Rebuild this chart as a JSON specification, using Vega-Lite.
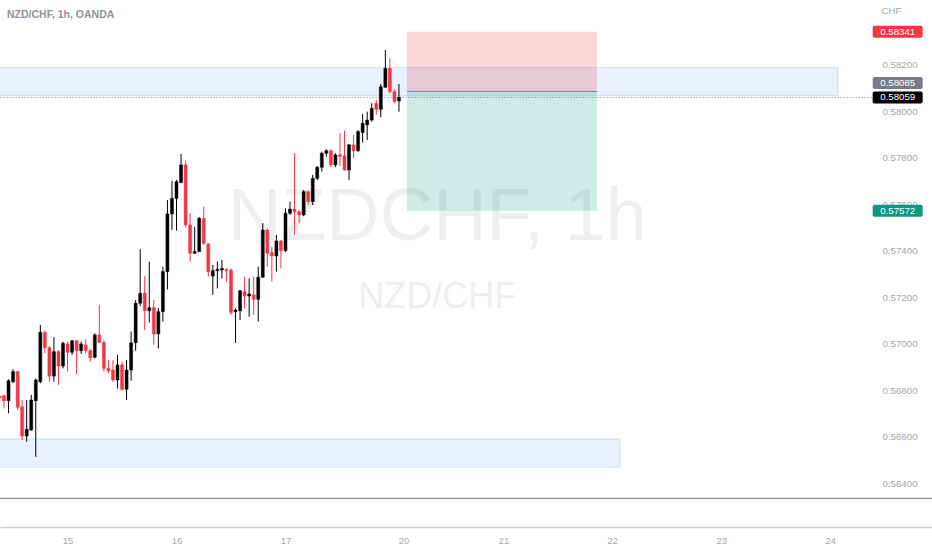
{
  "$schema": "https://vega.github.io/schema/vega-lite/v6.json",
  "width": 932,
  "height": 527,
  "autosize": {"type": "none"},
  "padding": {"left": 0, "top": 0, "right": 0, "bottom": 23},
  "background": "#ffffff",
  "title": {
    "text": "NZD/CHF, 1h, OANDA",
    "anchor": "start",
    "frame": "group",
    "orient": "top",
    "offset": -25,
    "baseline": "middle",
    "dx": 7,
    "fontSize": 10.5,
    "fontWeight": "bold",
    "color": "#8f929b",
    "font": "Liberation Sans"
  },
  "datasets": {
    "candles": [
      {"i": 9, "o": 0.56775, "h": 0.56784, "l": 0.56758, "c": 0.56767},
      {"i": 10, "o": 0.56777, "h": 0.56780, "l": 0.56722, "c": 0.56755},
      {"i": 11, "o": 0.56755, "h": 0.56847, "l": 0.56701, "c": 0.56841},
      {"i": 12, "o": 0.56837, "h": 0.56890, "l": 0.56830, "c": 0.56880},
      {"i": 13, "o": 0.56880, "h": 0.56884, "l": 0.56715, "c": 0.56727},
      {"i": 14, "o": 0.56729, "h": 0.56758, "l": 0.56586, "c": 0.56603},
      {"i": 15, "o": 0.56603, "h": 0.56758, "l": 0.56579, "c": 0.56632},
      {"i": 16, "o": 0.56629, "h": 0.56780, "l": 0.56625, "c": 0.56758},
      {"i": 17, "o": 0.56755, "h": 0.56851, "l": 0.56514, "c": 0.56844},
      {"i": 18, "o": 0.56837, "h": 0.57081, "l": 0.56830, "c": 0.57049},
      {"i": 19, "o": 0.57049, "h": 0.57056, "l": 0.56959, "c": 0.56983},
      {"i": 20, "o": 0.56983, "h": 0.56990, "l": 0.56837, "c": 0.56861},
      {"i": 21, "o": 0.56861, "h": 0.57028, "l": 0.56837, "c": 0.56966},
      {"i": 22, "o": 0.56966, "h": 0.56973, "l": 0.56823, "c": 0.56904},
      {"i": 23, "o": 0.56904, "h": 0.57009, "l": 0.56894, "c": 0.57002},
      {"i": 24, "o": 0.56999, "h": 0.57009, "l": 0.56880, "c": 0.56963},
      {"i": 25, "o": 0.56963, "h": 0.57016, "l": 0.56952, "c": 0.57013},
      {"i": 26, "o": 0.57013, "h": 0.57016, "l": 0.56870, "c": 0.56970},
      {"i": 27, "o": 0.56970, "h": 0.57009, "l": 0.56956, "c": 0.56999},
      {"i": 28, "o": 0.56995, "h": 0.57019, "l": 0.56959, "c": 0.56970},
      {"i": 29, "o": 0.56970, "h": 0.56980, "l": 0.56923, "c": 0.56940},
      {"i": 30, "o": 0.56942, "h": 0.57045, "l": 0.56937, "c": 0.57038},
      {"i": 31, "o": 0.57038, "h": 0.57167, "l": 0.57002, "c": 0.57006},
      {"i": 32, "o": 0.57006, "h": 0.57016, "l": 0.56880, "c": 0.56894},
      {"i": 33, "o": 0.56894, "h": 0.56930, "l": 0.56873, "c": 0.56883},
      {"i": 34, "o": 0.56887, "h": 0.56930, "l": 0.56837, "c": 0.56844},
      {"i": 35, "o": 0.56844, "h": 0.56952, "l": 0.56808, "c": 0.56909},
      {"i": 36, "o": 0.56909, "h": 0.56923, "l": 0.56797, "c": 0.56804},
      {"i": 37, "o": 0.56804, "h": 0.56930, "l": 0.56758, "c": 0.56887},
      {"i": 38, "o": 0.56887, "h": 0.57052, "l": 0.56841, "c": 0.57004},
      {"i": 39, "o": 0.57004, "h": 0.57188, "l": 0.56970, "c": 0.57174},
      {"i": 40, "o": 0.57174, "h": 0.57406, "l": 0.57162, "c": 0.57217},
      {"i": 41, "o": 0.57217, "h": 0.57291, "l": 0.57059, "c": 0.57142},
      {"i": 42, "o": 0.57142, "h": 0.57353, "l": 0.57091, "c": 0.57155},
      {"i": 43, "o": 0.57155, "h": 0.57188, "l": 0.56995, "c": 0.57042},
      {"i": 44, "o": 0.57042, "h": 0.57154, "l": 0.56980, "c": 0.57138},
      {"i": 45, "o": 0.57138, "h": 0.57331, "l": 0.57095, "c": 0.57310},
      {"i": 46, "o": 0.57310, "h": 0.57618, "l": 0.57234, "c": 0.57558},
      {"i": 47, "o": 0.57558, "h": 0.57701, "l": 0.57489, "c": 0.57625},
      {"i": 48, "o": 0.57625, "h": 0.57704, "l": 0.57486, "c": 0.57697},
      {"i": 49, "o": 0.57693, "h": 0.57816, "l": 0.57690, "c": 0.57769},
      {"i": 50, "o": 0.57769, "h": 0.57787, "l": 0.57501, "c": 0.57511},
      {"i": 51, "o": 0.57511, "h": 0.57561, "l": 0.57353, "c": 0.57389},
      {"i": 52, "o": 0.57389, "h": 0.57503, "l": 0.57386, "c": 0.57396},
      {"i": 53, "o": 0.57396, "h": 0.57545, "l": 0.57395, "c": 0.57539},
      {"i": 54, "o": 0.57539, "h": 0.57589, "l": 0.57425, "c": 0.57432},
      {"i": 55, "o": 0.57429, "h": 0.57433, "l": 0.57288, "c": 0.57310},
      {"i": 56, "o": 0.57291, "h": 0.57339, "l": 0.57210, "c": 0.57314},
      {"i": 57, "o": 0.57314, "h": 0.57353, "l": 0.57238, "c": 0.57320},
      {"i": 58, "o": 0.57317, "h": 0.57360, "l": 0.57281, "c": 0.57324},
      {"i": 59, "o": 0.57320, "h": 0.57324, "l": 0.57267, "c": 0.57314},
      {"i": 60, "o": 0.57317, "h": 0.57324, "l": 0.57124, "c": 0.57134},
      {"i": 61, "o": 0.57138, "h": 0.57152, "l": 0.57004, "c": 0.57145},
      {"i": 62, "o": 0.57142, "h": 0.57231, "l": 0.57102, "c": 0.57228},
      {"i": 63, "o": 0.57224, "h": 0.57288, "l": 0.57152, "c": 0.57205},
      {"i": 64, "o": 0.57205, "h": 0.57281, "l": 0.57116, "c": 0.57214},
      {"i": 65, "o": 0.57210, "h": 0.57288, "l": 0.57124, "c": 0.57191},
      {"i": 66, "o": 0.57191, "h": 0.57331, "l": 0.57095, "c": 0.57286},
      {"i": 67, "o": 0.57286, "h": 0.57518, "l": 0.57283, "c": 0.57489},
      {"i": 68, "o": 0.57489, "h": 0.57496, "l": 0.57331, "c": 0.57389},
      {"i": 69, "o": 0.57392, "h": 0.57417, "l": 0.57267, "c": 0.57377},
      {"i": 70, "o": 0.57377, "h": 0.57468, "l": 0.57310, "c": 0.57442},
      {"i": 71, "o": 0.57442, "h": 0.57446, "l": 0.57324, "c": 0.57400},
      {"i": 72, "o": 0.57400, "h": 0.57582, "l": 0.57395, "c": 0.57561},
      {"i": 73, "o": 0.57561, "h": 0.57611, "l": 0.57554, "c": 0.57579},
      {"i": 74, "o": 0.57579, "h": 0.57819, "l": 0.57468, "c": 0.57568},
      {"i": 75, "o": 0.57568, "h": 0.57575, "l": 0.57521, "c": 0.57554},
      {"i": 76, "o": 0.57554, "h": 0.57661, "l": 0.57549, "c": 0.57654},
      {"i": 77, "o": 0.57654, "h": 0.57659, "l": 0.57597, "c": 0.57611},
      {"i": 78, "o": 0.57611, "h": 0.57726, "l": 0.57597, "c": 0.57711},
      {"i": 79, "o": 0.57711, "h": 0.57764, "l": 0.57704, "c": 0.57759},
      {"i": 80, "o": 0.57759, "h": 0.57826, "l": 0.57740, "c": 0.57819},
      {"i": 81, "o": 0.57819, "h": 0.57836, "l": 0.57804, "c": 0.57830},
      {"i": 82, "o": 0.57830, "h": 0.57836, "l": 0.57759, "c": 0.57769},
      {"i": 83, "o": 0.57769, "h": 0.57819, "l": 0.57759, "c": 0.57812},
      {"i": 84, "o": 0.57812, "h": 0.57905, "l": 0.57764, "c": 0.57805},
      {"i": 85, "o": 0.57808, "h": 0.57916, "l": 0.57744, "c": 0.57747},
      {"i": 86, "o": 0.57747, "h": 0.57859, "l": 0.57704, "c": 0.57855},
      {"i": 87, "o": 0.57855, "h": 0.57898, "l": 0.57797, "c": 0.57830},
      {"i": 88, "o": 0.57830, "h": 0.57919, "l": 0.57825, "c": 0.57912},
      {"i": 89, "o": 0.57908, "h": 0.57988, "l": 0.57865, "c": 0.57948},
      {"i": 90, "o": 0.57941, "h": 0.57998, "l": 0.57876, "c": 0.57962},
      {"i": 91, "o": 0.57962, "h": 0.58034, "l": 0.57955, "c": 0.58012},
      {"i": 92, "o": 0.58034, "h": 0.58048, "l": 0.57984, "c": 0.58008},
      {"i": 93, "o": 0.58008, "h": 0.58117, "l": 0.57974, "c": 0.58105},
      {"i": 94, "o": 0.58103, "h": 0.58263, "l": 0.58100, "c": 0.58184},
      {"i": 95, "o": 0.58184, "h": 0.58227, "l": 0.58077, "c": 0.58084},
      {"i": 96, "o": 0.58084, "h": 0.58094, "l": 0.58034, "c": 0.58041},
      {"i": 97, "o": 0.58044, "h": 0.58117, "l": 0.57998, "c": 0.58059}
    ],
    "zones": [
      {"x1": 0, "x2": 193.7, "top": 0.58187, "bottom": 0.58067},
      {"x1": 0, "x2": 145.7, "top": 0.56590, "bottom": 0.56470}
    ],
    "position": [
      {"x1": 98.77, "x2": 140.6, "top": 0.58341, "bottom": 0.58085, "side": "stop"},
      {"x1": 98.77, "x2": 140.6, "top": 0.58085, "bottom": 0.57572, "side": "target"}
    ],
    "entry": [{"x1": 98.77, "x2": 140.6, "p": 0.58085}],
    "last": [{"x1": 0, "x2": 201.2, "p": 0.58059}],
    "panes": [{"p": 0.563354}],
    "tags": [
      {"p": 0.58341, "label": "0.58341", "kind": "stop"},
      {"p": 0.58059, "label": "0.58059", "kind": "last"},
      {"p": 0.57572, "label": "0.57572", "kind": "target"}
    ],
    "entryTag": [{"p": 0.58085, "label": "0.58085"}]
  },
  "layer": [
    {
      "data": {"name": "candles"},
      "mark": {"type": "rule", "strokeWidth": 1, "opacity": 0},
      "encoding": {
        "x": {
          "field": "i", "type": "quantitative",
          "scale": {"domain": [9.12, 214.41], "nice": false, "zero": false, "padding": 0},
          "axis": {
            "orient": "bottom",
            "values": [24, 48, 72, 98, 120, 144, 168, 192],
            "labelExpr": "datum.value == 24 ? '15' : datum.value == 48 ? '16' : datum.value == 72 ? '17' : datum.value == 98 ? '20' : datum.value == 120 ? '21' : datum.value == 144 ? '22' : datum.value == 168 ? '23' : '24'",
            "ticks": false, "grid": false, "title": null,
            "domainColor": "#c8cbd2", "domainWidth": 1.5,
            "labelColor": "#a3a6af", "labelFontSize": 9.5, "labelFont": "Liberation Sans",
            "labelPadding": 8, "labelFlush": false, "labelOverlap": false
          }
        },
        "y": {
          "field": "l", "type": "quantitative",
          "scale": {"domain": [0.56212, 0.58478], "nice": false, "zero": false, "padding": 0},
          "axis": {
            "orient": "right", "offset": -66,
            "values": [0.564, 0.566, 0.568, 0.57, 0.572, 0.574, 0.576, 0.578, 0.58, 0.582],
            "format": ".5f",
            "labelAlign": "left", "labelBaseline": "middle", "labelPadding": 16,
            "ticks": false, "domain": false, "grid": false,
            "labelColor": "#a3a6af", "labelFontSize": 9.7, "labelFont": "Liberation Sans",
            "labelFlush": false, "labelOverlap": false,
            "title": "CHF", "titleAngle": 0, "titleAlign": "left", "titleBaseline": "middle",
            "titleX": 15, "titleY": 10, "titleColor": "#a3a6af", "titleFontSize": 9.7,
            "titleFontWeight": "normal", "titleFont": "Liberation Sans"
          }
        },
        "y2": {"field": "h"}
      }
    },
    {
      "data": {"values": [{"label": "NZDCHF, 1h"}]},
      "mark": {"type": "text", "fontSize": 74, "font": "Liberation Sans", "color": "#000000", "opacity": 0.06, "align": "center", "baseline": "alphabetic"},
      "encoding": {
        "x": {"datum": 105.45, "type": "quantitative", "scale": {"domain": [9.12, 214.41], "nice": false, "zero": false, "padding": 0}},
        "y": {"datum": 0.57446, "type": "quantitative", "scale": {"domain": [0.56212, 0.58478], "nice": false, "zero": false, "padding": 0}},
        "text": {"field": "label"}
      }
    },
    {
      "data": {"values": [{"label": "NZD/CHF"}]},
      "mark": {"type": "text", "fontSize": 36, "font": "Liberation Sans", "color": "#000000", "opacity": 0.06, "align": "center", "baseline": "alphabetic"},
      "encoding": {
        "x": {"datum": 105.45, "type": "quantitative", "scale": {"domain": [9.12, 214.41], "nice": false, "zero": false, "padding": 0}},
        "y": {"datum": 0.57155, "type": "quantitative", "scale": {"domain": [0.56212, 0.58478], "nice": false, "zero": false, "padding": 0}},
        "text": {"field": "label"}
      }
    },
    {
      "data": {"name": "zones"},
      "mark": {"type": "rect", "fill": "#e8f1fd", "stroke": "#d0def4", "strokeWidth": 1, "clip": true},
      "encoding": {
        "x": {"field": "x1", "type": "quantitative", "scale": {"domain": [9.12, 214.41], "nice": false, "zero": false, "padding": 0}},
        "x2": {"field": "x2"},
        "y": {"field": "top", "type": "quantitative", "scale": {"domain": [0.56212, 0.58478], "nice": false, "zero": false, "padding": 0}},
        "y2": {"field": "bottom"}
      }
    },
    {
      "data": {"name": "position"},
      "mark": {"type": "rect", "fillOpacity": 0.2},
      "encoding": {
        "x": {"field": "x1", "type": "quantitative", "scale": {"domain": [9.12, 214.41], "nice": false, "zero": false, "padding": 0}},
        "x2": {"field": "x2"},
        "y": {"field": "top", "type": "quantitative", "scale": {"domain": [0.56212, 0.58478], "nice": false, "zero": false, "padding": 0}},
        "y2": {"field": "bottom"},
        "color": {"condition": {"test": "datum.side === 'stop'", "value": "#f23645"}, "value": "#089981"}
      }
    },
    {
      "data": {"name": "entry"},
      "mark": {"type": "rule", "color": "#787b86", "strokeWidth": 1},
      "encoding": {
        "x": {"field": "x1", "type": "quantitative", "scale": {"domain": [9.12, 214.41], "nice": false, "zero": false, "padding": 0}},
        "x2": {"field": "x2"},
        "y": {"field": "p", "type": "quantitative", "scale": {"domain": [0.56212, 0.58478], "nice": false, "zero": false, "padding": 0}}
      }
    },
    {
      "data": {"name": "last"},
      "mark": {"type": "rule", "color": "#787b86", "strokeWidth": 1, "strokeDash": [1, 2], "clip": true},
      "encoding": {
        "x": {"field": "x1", "type": "quantitative", "scale": {"domain": [9.12, 214.41], "nice": false, "zero": false, "padding": 0}},
        "x2": {"field": "x2"},
        "y": {"field": "p", "type": "quantitative", "scale": {"domain": [0.56212, 0.58478], "nice": false, "zero": false, "padding": 0}}
      }
    },
    {
      "data": {"name": "panes"},
      "mark": {"type": "rule", "color": "#6a6d78", "strokeWidth": 1},
      "encoding": {
        "y": {"field": "p", "type": "quantitative", "scale": {"domain": [0.56212, 0.58478], "nice": false, "zero": false, "padding": 0}}
      }
    },
    {
      "data": {"name": "candles"},
      "mark": {"type": "rule", "strokeWidth": 1},
      "encoding": {
        "x": {"field": "i", "type": "quantitative", "scale": {"domain": [9.12, 214.41], "nice": false, "zero": false, "padding": 0}},
        "y": {"field": "l", "type": "quantitative", "scale": {"domain": [0.56212, 0.58478], "nice": false, "zero": false, "padding": 0}},
        "y2": {"field": "h"},
        "color": {"condition": {"test": "datum.c >= datum.o", "value": "#000000"}, "value": "#f23645"}
      }
    },
    {
      "data": {"name": "candles"},
      "mark": {"type": "bar", "size": 3, "strokeWidth": 0.5},
      "encoding": {
        "x": {"field": "i", "type": "quantitative", "scale": {"domain": [9.12, 214.41], "nice": false, "zero": false, "padding": 0}},
        "y": {"field": "o", "type": "quantitative", "scale": {"domain": [0.56212, 0.58478], "nice": false, "zero": false, "padding": 0}},
        "y2": {"field": "c"},
        "color": {"condition": {"test": "datum.c >= datum.o", "value": "#000000"}, "value": "#f23645"},
        "stroke": {"condition": {"test": "datum.c >= datum.o", "value": "#000000"}, "value": "#f23645"}
      }
    },
    {
      "data": {"name": "tags"},
      "mark": {"type": "tick", "orient": "horizontal", "size": 50, "thickness": 12, "cornerRadius": 2, "opacity": 1},
      "encoding": {
        "x": {"datum": 206.85, "type": "quantitative", "scale": {"domain": [9.12, 214.41], "nice": false, "zero": false, "padding": 0}},
        "y": {"field": "p", "type": "quantitative", "scale": {"domain": [0.56212, 0.58478], "nice": false, "zero": false, "padding": 0}},
        "color": {
          "condition": [
            {"test": "datum.kind === 'stop'", "value": "#f23645"},
            {"test": "datum.kind === 'target'", "value": "#089981"}
          ],
          "value": "#000000"
        }
      }
    },
    {
      "data": {"name": "tags"},
      "mark": {"type": "text", "color": "#ffffff", "fontSize": 9.7, "font": "Liberation Sans", "align": "center", "baseline": "middle"},
      "encoding": {
        "x": {"datum": 206.85, "type": "quantitative", "scale": {"domain": [9.12, 214.41], "nice": false, "zero": false, "padding": 0}},
        "y": {"field": "p", "type": "quantitative", "scale": {"domain": [0.56212, 0.58478], "nice": false, "zero": false, "padding": 0}},
        "text": {"field": "label"}
      }
    },
    {
      "data": {"name": "entryTag"},
      "mark": {"type": "tick", "orient": "horizontal", "size": 50, "thickness": 12, "cornerRadius": 2, "opacity": 1, "color": "#787b86", "yOffset": -8.5},
      "encoding": {
        "x": {"datum": 206.85, "type": "quantitative", "scale": {"domain": [9.12, 214.41], "nice": false, "zero": false, "padding": 0}},
        "y": {"field": "p", "type": "quantitative", "scale": {"domain": [0.56212, 0.58478], "nice": false, "zero": false, "padding": 0}}
      }
    },
    {
      "data": {"name": "entryTag"},
      "mark": {"type": "text", "color": "#ffffff", "fontSize": 9.7, "font": "Liberation Sans", "align": "center", "baseline": "middle", "yOffset": -8.5},
      "encoding": {
        "x": {"datum": 206.85, "type": "quantitative", "scale": {"domain": [9.12, 214.41], "nice": false, "zero": false, "padding": 0}},
        "y": {"field": "p", "type": "quantitative", "scale": {"domain": [0.56212, 0.58478], "nice": false, "zero": false, "padding": 0}},
        "text": {"field": "label"}
      }
    }
  ],
  "config": {"view": {"stroke": null}}
}
